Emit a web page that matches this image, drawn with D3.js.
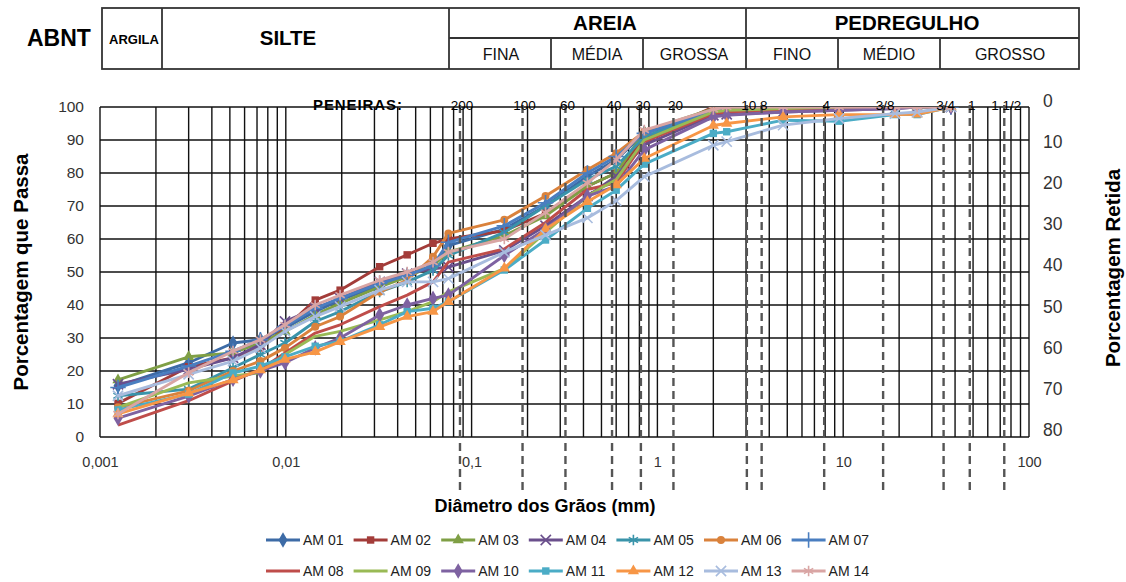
<!DOCTYPE html>
<html>
<head>
<meta charset="UTF-8">
<script src="https://cdn.jsdelivr.net/npm/d3@7"></script>
<title>Curvas granulométricas</title>
<style>
body{margin:0;background:#fff;}
text{font-family:"Liberation Sans",Arial,sans-serif;}
</style>
</head>
<body>
<div id="container"></div>
<script>
// diametros (mm) dos pontos: sedimentacao + peneiramento
var diametros=[0.00125,0.003,0.0052,0.0073,0.0099,0.0144,0.0196,0.032,0.045,0.062,0.075,0.15,0.25,0.42,0.6,0.85,2.0,2.36,4.75,9.5,19,25,38];
// % que passa de cada amostra
var am01=[15.5,22.5,28.5,29.5,33,38,41.5,46,49,52,58,63,70,79,84,92,98.5,99,99.5,99.8,100,100,100];
var am02=[10.2,21.3,24,27,33,41.5,44.5,51.6,55.2,58.7,60,62.5,67.8,76,80,90.5,100,100,100,100,100,100,100];
var am03=[17.3,24.3,25.5,28.5,32,37,40.5,45.5,48.5,52,56,61,67,76,80,92.5,99.5,99.7,100,100,100,100,100];
var am04=[16,20.5,24,28,35,39,42,47,49.5,51,51.5,56.5,64,73,79,88.5,97.5,97.8,98.5,99,99.5,100,100];
var am05=[12.5,14.5,21,25,28.5,35,38,44,47,50.5,55,62,70,78,82,91,98.5,99,99.5,100,100,100,100];
var am06=[9,14,20,23,27,33.4,36.5,44,47.5,54.6,61.7,65.8,73,81,86,92.5,99,99.3,99.6,100,100,100,100];
var am07=[15,21.5,26,29.5,33.5,39,42,46.5,49,52,59,64,71,80,85,92,98.8,99,99.5,100,100,100,100];
var am08=[3.6,11,17,20.5,25.5,31.5,34,39.5,43,47,53,57,65,75,77,89.5,98,98.5,99.2,99.6,100,100,100];
var am09=[9,16.4,18.5,19.5,25,30.5,32,35.5,38,41,44,51,62,73,78,90,98.5,99,99.5,100,100,100,100];
var am10=[5.7,12.4,17.5,20,22.5,27,30,37,40,42,43,55,63,73,76,87,97,97.5,98.5,99,99.5,100,100];
var am11=[8.2,13,19.4,21.5,24.3,27.5,29,34,38,39,41,50.6,59.7,69.3,74.8,82.7,92,92.5,96,95.7,97.7,97.7,100];
var am12=[7,13.3,17.3,20.3,23.5,25.8,28.9,33.4,36.5,38,41,51.1,63,71.3,76.4,84.4,94.4,95,97,97.7,97.7,97.8,100];
var am13=[12.5,19,23,27,32,36.5,39.5,44.5,47,47,48,56,61.2,66.4,71.6,78.9,88.4,89.5,94.5,96.5,98,98.5,100];
var am14=[7,19.5,26,29.5,34,40,43,47.5,50,53,56,60,68,77,84,93,99.3,100,100,100,100,100,100];
var amostras=["AM 01","AM 02","AM 03","AM 04","AM 05","AM 06","AM 07","AM 08","AM 09","AM 10","AM 11","AM 12","AM 13","AM 14"];
var valores=[am01,am02,am03,am04,am05,am06,am07,am08,am09,am10,am11,am12,am13,am14];

// peneiras (linhas tracejadas, no diametro em que aparecem no grafico)
var peneiras=["200","100","60","40","30","20","10","8","4","3/8","3/4","1","1 1/2"];
var peneirasDiam=[0.0866,0.188,0.32,0.57,0.815,1.22,3.03,3.64,7.9,16.4,34.7,48,73.6];

var xTicks=[0.001,0.01,0.1,1,10,100];
var yTicks=[0,10,20,30,40,50,60,70,80,90,100];
var retidaTicks=[0,10,20,30,40,50,60,70,80];

// classificacao ABNT
var classes=["ARGILA","SILTE","AREIA","PEDREGULHO"];
var subclasses=["FINA","MÉDIA","GROSSA","FINO","MÉDIO","GROSSO"];

var cores=["#3D6BA6","#A33C39","#7F9F45","#6A4F8C","#3A94AA","#DA823C","#4A7EC0","#BF4D4A","#99BA55","#7E62A1","#4BACC6","#F79646","#A8BCDE","#D9A5A4"];
var marcadores=["diamond","square","triangle","x","asterisk","circle","plus",null,null,"diamond","square","triangle","x","asterisk"];

var W=1126,H=582;
var svg=d3.select("#container").append("svg").attr("width",W).attr("height",H);

var x=d3.scaleLog().domain([0.001,100]).range([100,1029]);
var y=d3.scaleLinear().domain([0,100]).range([437,107]);
var yR=d3.scaleLinear().domain([0,80]).range([100.5,430]);

// ---- tabela ABNT ----
var tab=svg.append("g").attr("stroke","#333").attr("stroke-width",1.8).attr("fill","none");
var tx0=102,tx1=1079,ty0=8,ty1=69,tmid=38;
tab.append("rect").attr("x",tx0).attr("y",ty0).attr("width",tx1-tx0).attr("height",ty1-ty0);
[162,449,746].forEach(function(v){tab.append("line").attr("x1",v).attr("x2",v).attr("y1",ty0).attr("y2",ty1)});
tab.append("line").attr("x1",449).attr("x2",tx1).attr("y1",tmid).attr("y2",tmid);
[551,643,838,940].forEach(function(v){tab.append("line").attr("x1",v).attr("x2",v).attr("y1",tmid).attr("y2",ty1)});

svg.append("text").attr("x",27).attr("y",46).attr("font-size",23).attr("font-weight","bold").text("ABNT");
svg.append("text").attr("x",134).attr("y",43.5).attr("text-anchor","middle").attr("font-size",13).attr("font-weight","bold").text(classes[0]);
svg.append("text").attr("x",288).attr("y",45).attr("text-anchor","middle").attr("font-size",20.5).attr("font-weight","bold").text(classes[1]);
svg.append("text").attr("x",605).attr("y",30).attr("text-anchor","middle").attr("font-size",20.5).attr("font-weight","bold").text(classes[2]);
svg.append("text").attr("x",907).attr("y",30).attr("text-anchor","middle").attr("font-size",20.5).attr("font-weight","bold").text(classes[3]);
var subX=[501,597,694,792,889,1010];
svg.selectAll(".sub").data(subclasses).enter().append("text")
  .attr("x",function(d,i){return subX[i]}).attr("y",60)
  .attr("text-anchor","middle").attr("font-size",16).attr("fill","#111").text(function(d){return d});

// ---- grade ----
var grade=svg.append("g").attr("stroke","#111").attr("stroke-width",1.4);
grade.selectAll(".gv").data(x.ticks()).enter().append("line")
  .attr("x1",function(d){return x(d)}).attr("x2",function(d){return x(d)})
  .attr("y1",y(0)).attr("y2",y(100));
grade.selectAll(".gh").data(yTicks).enter().append("line")
  .attr("x1",x(0.001)).attr("x2",x(100))
  .attr("y1",function(d){return y(d)}).attr("y2",function(d){return y(d)});

// ---- eixos ----
var fmt=function(d){return String(d).replace(".",",")};
var ax=svg.append("g").attr("transform","translate(0,"+y(0)+")")
  .call(d3.axisBottom(x).tickValues(xTicks).tickFormat(fmt).tickSize(0).tickPadding(20));
ax.select(".domain").remove();
ax.selectAll("text").attr("font-size",14.5).attr("fill","#333").style("font-family","Liberation Sans, Arial, sans-serif");

var ay=svg.append("g").attr("transform","translate("+x(0.001)+",0)")
  .call(d3.axisLeft(y).tickValues(yTicks).tickSize(0).tickPadding(16));
ay.select(".domain").remove();
ay.selectAll("text").attr("font-size",15.5).attr("fill","#333").style("font-family","Liberation Sans, Arial, sans-serif");

var ayR=svg.append("g").attr("transform","translate("+x(100)+",0)")
  .call(d3.axisRight(yR).tickValues(retidaTicks).tickSize(0).tickPadding(14));
ayR.select(".domain").remove();
ayR.selectAll("text").attr("font-size",17.5).attr("fill","#333").style("font-family","Liberation Sans, Arial, sans-serif");

svg.append("text").attr("x",545).attr("y",512).attr("text-anchor","middle")
  .attr("font-size",18).attr("font-weight","bold").text("Diâmetro dos Grãos (mm)");
svg.append("text").attr("transform","translate(28,272) rotate(-90)").attr("text-anchor","middle")
  .attr("font-size",20.5).attr("font-weight","bold").text("Porcentagem que Passa");
svg.append("text").attr("transform","translate(1120,268) rotate(-90)").attr("text-anchor","middle")
  .attr("font-size",20.5).attr("font-weight","bold").text("Porcentagem Retida");

// ---- curvas ----
svg.append("clipPath").attr("id","area").append("rect")
  .attr("x",x(0.001)).attr("y",y(100)).attr("width",x(100)-x(0.001)).attr("height",y(0)-y(100));

function simbolo(tipo){
  var t={diamond:d3.symbolDiamond,square:d3.symbolSquare,triangle:d3.symbolTriangle,circle:d3.symbolCircle,
         x:d3.symbolTimes,asterisk:d3.symbolAsterisk,plus:d3.symbolPlus}[tipo];
  var tam={diamond:70,square:55,triangle:55,circle:50,x:70,asterisk:80,plus:80}[tipo];
  return d3.symbol().type(t).size(tam)();
}
function preenchido(tipo){return ["diamond","square","triangle","circle"].indexOf(tipo)>=0}

var linha=d3.line().x(function(d){return x(d[0])}).y(function(d){return y(d[1])});
var curvas=svg.append("g").attr("clip-path","url(#area)");
valores.forEach(function(v,i){
  var pts=diametros.map(function(d,j){return [d,v[j]]});
  curvas.append("path").datum(pts).attr("d",linha)
    .attr("fill","none").attr("stroke",cores[i]).attr("stroke-width",2.9).attr("stroke-linejoin","round");
  if(marcadores[i]){
    curvas.selectAll(".m"+i).data(pts).enter().append("path")
      .attr("transform",function(d){return "translate("+x(d[0])+","+y(d[1])+")"})
      .attr("d",simbolo(marcadores[i]))
      .attr("fill",preenchido(marcadores[i])?cores[i]:"none")
      .attr("stroke",cores[i]).attr("stroke-width",preenchido(marcadores[i])?0:1.6);
  }
});

// ---- peneiras ----
var pen=svg.append("g");
pen.selectAll("line").data(peneirasDiam).enter().append("line")
  .attr("x1",function(d){return x(d)}).attr("x2",function(d){return x(d)})
  .attr("y1",105).attr("y2",493)
  .attr("stroke","#555").attr("stroke-width",2.4).attr("stroke-dasharray","8,5");
pen.selectAll("text").data(peneiras).enter().append("text")
  .attr("x",function(d,i){return x(peneirasDiam[i])+2}).attr("y",110)
  .attr("text-anchor","middle").attr("font-size",13.5).attr("fill","#000")
  .text(function(d){return d});
svg.append("text").attr("x",313).attr("y",110).attr("font-size",15).attr("letter-spacing",0.9)
  .attr("font-weight","bold").text("PENEIRAS:");

// ---- legenda ----
var leg=svg.append("g");
amostras.forEach(function(nome,i){
  var lx=266+(i%7)*87.6, ly=540+Math.floor(i/7)*31;
  var g=leg.append("g").attr("transform","translate("+lx+","+ly+")");
  g.append("line").attr("x1",0).attr("x2",34).attr("stroke",cores[i]).attr("stroke-width",3);
  if(marcadores[i]){
    g.append("path").attr("transform","translate(17,0)").attr("d",simbolo(marcadores[i]))
      .attr("fill",preenchido(marcadores[i])?cores[i]:"none")
      .attr("stroke",cores[i]).attr("stroke-width",preenchido(marcadores[i])?0:1.6);
  }
  g.append("text").attr("x",37).attr("dy","0.35em").attr("font-size",14).attr("fill","#222").text(nome);
});
</script>
</body>
</html>
